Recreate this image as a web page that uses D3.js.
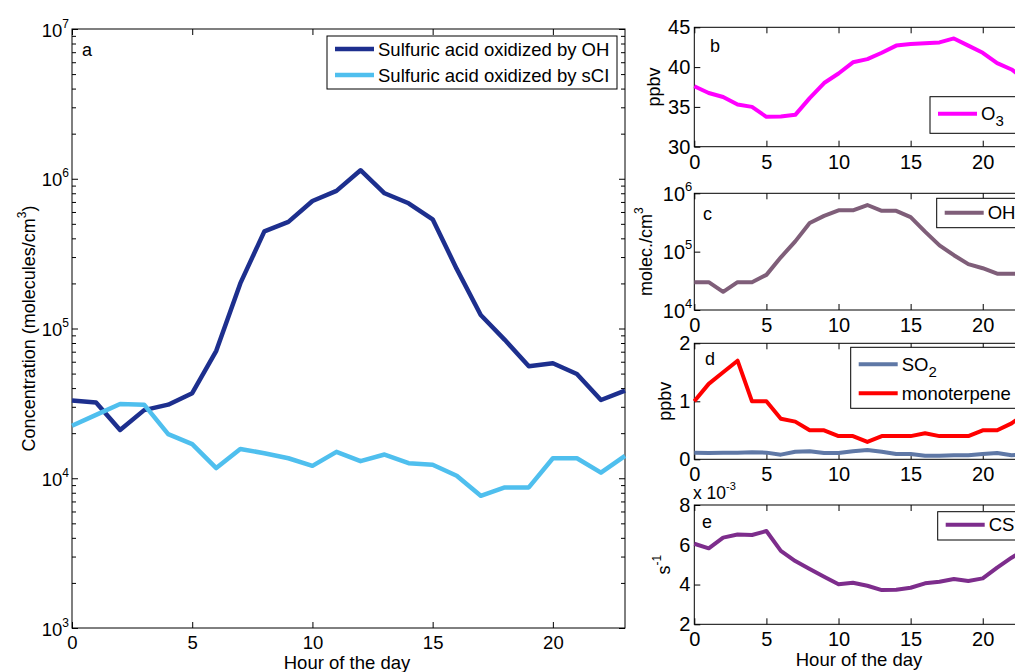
<!DOCTYPE html>
<html>
<head>
<meta charset="utf-8">
<script src="https://cdn.jsdelivr.net/npm/d3@7/dist/d3.min.js"></script>
<style>
    body { margin: 0; background: #fff; }
    svg { display: block; font-family: "Liberation Sans", Arial, sans-serif; }
    .axis path { display: none; }
    .axis line { stroke: #000; }
    .axis text { fill: #000; }
</style>
</head>
<body>
<svg id="chart" width="1015" height="672"></svg>
<script>
// hour of the day
var hours = [0, 1, 2, 3, 4, 5, 6, 7, 8, 9, 10, 11, 12, 13, 14, 15, 16, 17, 18, 19, 20, 21, 22, 23];
var xTicks = [0, 5, 10, 15, 20];

// panel a: sulfuric acid (molecules/cm3)
var acidOH = [33000, 32000, 21000, 28500, 31000, 37000, 71000, 200000, 445000, 515000, 710000, 830000,
    1140000, 800000, 686000, 536000, 250000, 123000, 84000, 56000, 58600, 49700, 33300, 38500];
var acidSCI = [22400, 26500, 31300, 31000, 19700, 16900, 11700, 15700, 14700, 13600, 12100, 15000,
    13000, 14400, 12600, 12300, 10400, 7640, 8690, 8690, 13600, 13600, 10900, 14100];

// panel b: O3 (ppbv)
var ozone = [37.6, 36.75, 36.25, 35.3, 35.0, 33.75, 33.8, 34.0, 36.1, 38.0, 39.2, 40.6,
    41.0, 41.8, 42.7, 42.9, 43.0, 43.1, 43.6, 42.7, 41.8, 40.5, 39.7, 38.4];

// panel c: OH (molec./cm3)
var hydroxyl = [30000, 30000, 20500, 30000, 30000, 40000, 80000, 150000, 310000, 410000, 510000, 510000,
    630000, 500000, 500000, 390000, 220000, 128000, 87000, 61000, 52000, 42000, 42000, 42000];

// panel d: SO2 and monoterpene (ppbv)
var so2 = [0.115, 0.11, 0.115, 0.115, 0.12, 0.115, 0.08, 0.13, 0.14, 0.11, 0.11, 0.14,
    0.16, 0.13, 0.09, 0.09, 0.06, 0.06, 0.07, 0.07, 0.09, 0.11, 0.07, 0.08];
var monoterpene = [1.0, 1.3, 1.5, 1.7, 1.0, 1.0, 0.7, 0.65, 0.5, 0.5, 0.4, 0.4,
    0.3, 0.4, 0.4, 0.4, 0.45, 0.4, 0.4, 0.4, 0.5, 0.5, 0.62, 0.8];

// panel e: condensation sink (x 10^-3 s-1)
var condSink = [6.05, 5.82, 6.36, 6.52, 6.49, 6.69, 5.69, 5.18, 4.78, 4.39, 4.01, 4.09,
    3.94, 3.72, 3.74, 3.84, 4.06, 4.14, 4.28, 4.18, 4.31, 4.85, 5.35, 5.8];

var svg = d3.select("#chart");

function supText(sel, base, sup, size) {
    sel.append("tspan").text(base);
    sel.append("tspan")
        .attr("dy", -Math.round(size * 0.5))
        .attr("font-size", Math.round(size * 0.65))
        .text(sup);
}

function subText(sel, base, sub, size) {
    sel.append("tspan").text(base);
    sel.append("tspan")
        .attr("dy", Math.round(size * 0.35))
        .attr("font-size", Math.round(size * 0.8))
        .text(sub);
}

function drawPanel(p) {
    var g = svg.append("g");
    var x = d3.scaleLinear().domain([0, 23]).range([p.left, p.right]);
    var y = (p.log ? d3.scaleLog() : d3.scaleLinear()).domain(p.domain).range([p.bottom, p.top]);

    // frame
    g.append("rect")
        .attr("x", p.left)
        .attr("y", p.top)
        .attr("width", p.right - p.left)
        .attr("height", p.bottom - p.top)
        .attr("fill", "none")
        .attr("stroke", "#000");

    // x axes, ticks pointing inward
    g.append("g")
        .attr("class", "axis")
        .attr("transform", "translate(0," + p.bottom + ")")
        .call(d3.axisBottom(x).tickValues(xTicks).tickSize(-6).tickPadding(p.xPad).tickFormat(d3.format("d")))
        .attr("font-size", p.tickFont);
    g.append("g")
        .attr("class", "axis")
        .attr("transform", "translate(0," + p.top + ")")
        .call(d3.axisTop(x).tickValues(xTicks).tickSize(-6).tickFormat(""));

    // y axes
    var left = g.append("g")
        .attr("class", "axis")
        .attr("transform", "translate(" + p.left + ",0)")
        .call(d3.axisLeft(y).tickValues(p.yTicks).tickSize(-6).tickPadding(4)
            .tickFormat(p.log ? "" : d3.format("d")))
        .attr("font-size", p.tickFont);
    g.append("g")
        .attr("class", "axis")
        .attr("transform", "translate(" + p.right + ",0)")
        .call(d3.axisRight(y).tickValues(p.yTicks).tickSize(-6).tickFormat(""));

    if (p.minor) {
        g.append("g")
            .attr("class", "axis")
            .attr("transform", "translate(" + p.left + ",0)")
            .call(d3.axisLeft(y).tickValues(p.minor).tickSize(-4).tickFormat(""));
        g.append("g")
            .attr("class", "axis")
            .attr("transform", "translate(" + p.right + ",0)")
            .call(d3.axisRight(y).tickValues(p.minor).tickSize(-4).tickFormat(""));
    }

    // 10^n labels on log axes
    if (p.log) {
        left.selectAll(".tick").each(function(d) {
            var t = d3.select(this).append("text")
                .attr("x", -p.logPad)
                .attr("y", Math.round(p.tickFont * 0.36))
                .attr("text-anchor", "end");
            supText(t, "10", String(Math.round(Math.log10(d))), p.tickFont);
        });
    }

    // data lines
    var line = d3.line()
        .x((d, i) => x(hours[i]))
        .y(d => y(d));
    p.series.forEach(s => {
        g.append("path")
            .datum(s.values)
            .attr("d", line)
            .attr("fill", "none")
            .attr("stroke", s.color)
            .attr("stroke-width", p.lineWidth)
            .attr("stroke-linejoin", "round");
    });

    // panel letter
    g.append("text")
        .attr("x", p.letterPos[0])
        .attr("y", p.letterPos[1])
        .attr("font-size", 18)
        .text(p.letter);

    // y label
    var yl = g.append("text")
        .attr("transform", "translate(" + p.yLabelX + "," + (p.top + p.bottom) / 2 + ") rotate(-90)")
        .attr("text-anchor", "middle")
        .attr("font-size", 18);
    if (p.yLabelSup) supText(yl, p.yLabel, p.yLabelSup, 18);
    else yl.text(p.yLabel);
    if (p.yLabelTail) yl.append("tspan").attr("dy", 9).text(p.yLabelTail);

    // legend
    var lg = p.legend;
    g.append("rect")
        .attr("x", lg.x)
        .attr("y", lg.y)
        .attr("width", lg.w)
        .attr("height", lg.h)
        .attr("fill", "#fff")
        .attr("stroke", "#000");
    p.series.forEach((s, i) => {
        var cy = lg.y + lg.rowStart + i * lg.rowGap;
        g.append("line")
            .attr("x1", lg.x + 8)
            .attr("x2", lg.x + 8 + lg.sample)
            .attr("y1", cy)
            .attr("y2", cy)
            .attr("stroke", s.color)
            .attr("stroke-width", p.lineWidth);
        var t = g.append("text")
            .attr("x", lg.x + 12 + lg.sample)
            .attr("y", cy + 6.5)
            .attr("font-size", 18.5);
        if (s.sub) subText(t, s.name, s.sub, 18.5);
        else t.text(s.name);
    });

    return g;
}

function decadeMinors(lo, hi) {
    var out = [];
    for (var e = lo; e < hi; e++) {
        [2, 3, 4, 5, 6, 7, 8, 9].forEach(m => out.push(m * Math.pow(10, e)));
    }
    return out;
}

// panel a
drawPanel({
    left: 72, right: 625, top: 29, bottom: 628,
    log: true, domain: [1e3, 1e7], yTicks: [1e3, 1e4, 1e5, 1e6, 1e7], minor: decadeMinors(3, 7),
    tickFont: 18.5, xPad: 8, logPad: 3, lineWidth: 4.5,
    letter: "a", letterPos: [82, 56],
    yLabel: "Concentration (molecules/cm", yLabelSup: "3", yLabelTail: ")", yLabelX: 35,
    legend: { x: 327, y: 36, w: 290, h: 53, rowStart: 13, rowGap: 26, sample: 39 },
    series: [
        { name: "Sulfuric acid oxidized by OH", values: acidOH, color: "#1d2f8e" },
        { name: "Sulfuric acid oxidized by sCI", values: acidSCI, color: "#4fbfee" }
    ]
});

// panel b
drawPanel({
    left: 694.3, right: 1026, top: 27.3, bottom: 146.7,
    log: false, domain: [30, 45], yTicks: [30, 35, 40, 45],
    tickFont: 20, xPad: 8, logPad: 2, lineWidth: 4,
    letter: "b", letterPos: [710, 52],
    yLabel: "ppbv", yLabelX: 660,
    legend: { x: 930, y: 96.7, w: 110, h: 36.6, rowStart: 17, rowGap: 0, sample: 39 },
    series: [{ name: "O", sub: "3", values: ozone, color: "#ff00ff" }]
});

// panel c
drawPanel({
    left: 694.3, right: 1026, top: 193.3, bottom: 310,
    log: true, domain: [1e4, 1e6], yTicks: [1e4, 1e5, 1e6],
    tickFont: 20, xPad: 8, logPad: 2, lineWidth: 4,
    letter: "c", letterPos: [703, 220],
    yLabel: "molec./cm", yLabelSup: "3", yLabelX: 652,
    legend: { x: 936.7, y: 198.3, w: 110, h: 29.4, rowStart: 14.4, rowGap: 0, sample: 39 },
    series: [{ name: "OH", values: hydroxyl, color: "#7f5e79" }]
});

// panel d
drawPanel({
    left: 694.3, right: 1026, top: 343.3, bottom: 459.3,
    log: false, domain: [0, 2], yTicks: [0, 1, 2],
    tickFont: 20, xPad: 8, logPad: 2, lineWidth: 4,
    letter: "d", letterPos: [705, 365],
    yLabel: "ppbv", yLabelX: 671,
    legend: { x: 850.7, y: 347.3, w: 200, h: 61, rowStart: 17, rowGap: 29, sample: 39 },
    series: [
        { name: "SO", sub: "2", values: so2, color: "#5f78a6" },
        { name: "monoterpene", values: monoterpene, color: "#ff0000" }
    ]
});

// panel e
drawPanel({
    left: 694.3, right: 1026, top: 505, bottom: 624.3,
    log: false, domain: [2, 8], yTicks: [2, 4, 6, 8],
    tickFont: 20, xPad: 8, logPad: 2, lineWidth: 4,
    letter: "e", letterPos: [702, 528],
    yLabel: "s", yLabelSup: "-1", yLabelX: 670,
    legend: { x: 937.7, y: 511.7, w: 110, h: 28.3, rowStart: 13, rowGap: 0, sample: 39 },
    series: [{ name: "CS", values: condSink, color: "#7d2d8c" }]
});

// exponent note above panel e
var note = svg.append("text")
    .attr("x", 693)
    .attr("y", 499)
    .attr("font-size", 17.5);
supText(note, "x 10", "-3", 17.5);

// x labels
svg.append("text")
    .attr("x", 347)
    .attr("y", 669)
    .attr("text-anchor", "middle")
    .attr("font-size", 18.5)
    .text("Hour of the day");
svg.append("text")
    .attr("x", 859)
    .attr("y", 666)
    .attr("text-anchor", "middle")
    .attr("font-size", 18.5)
    .text("Hour of the day");
</script>
</body>
</html>
